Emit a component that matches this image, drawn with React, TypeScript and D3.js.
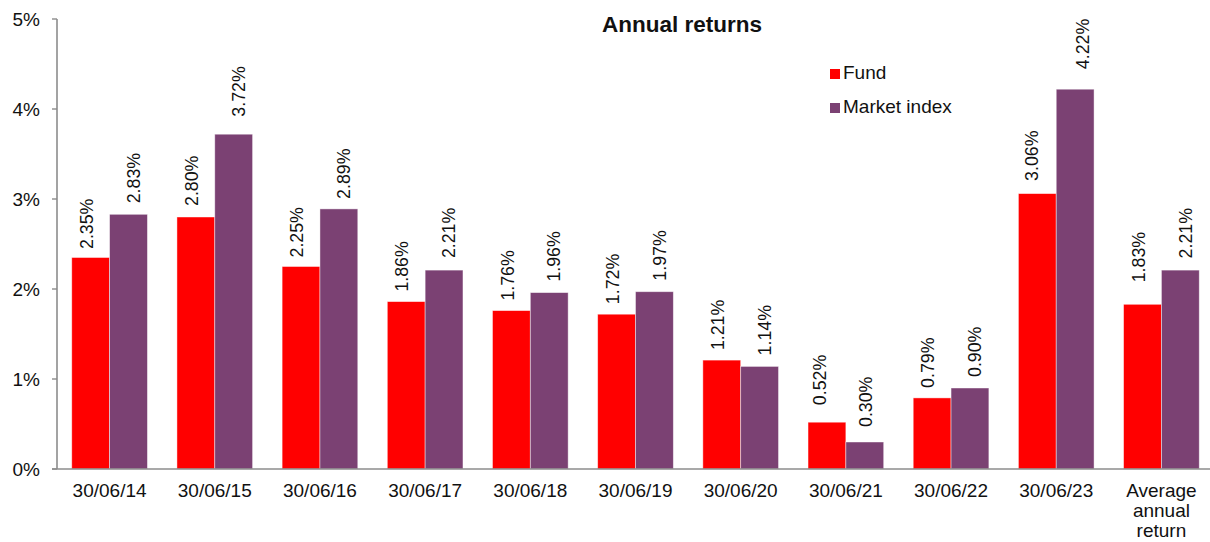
import React from "react";
import * as d3 from "d3";

const categories = ["30/06/14", "30/06/15", "30/06/16", "30/06/17", "30/06/18", "30/06/19", "30/06/20", "30/06/21", "30/06/22", "30/06/23", "Average annual return"];
const fundValues = [2.35, 2.8, 2.25, 1.86, 1.76, 1.72, 1.21, 0.52, 0.79, 3.06, 1.83];
const indexValues = [2.83, 3.72, 2.89, 2.21, 1.96, 1.97, 1.14, 0.3, 0.9, 4.22, 2.21];
const seriesNames = ["Fund", "Market index"];
const seriesColors = ["#FF0000", "#7B4173"];
const yTicks = [0, 1, 2, 3, 4, 5];
const title = "Annual returns";

// label placement tweaks (px gap above bar top, px horizontal shift) — styling only
const fundLabelGap = [8.5, 11, 9, 10, 10, 10, 10, 17, 10, 12.7, 22];
const indexLabelGap = [11, 17.5, 10, 12, 11, 11, 11, 15, 11, 20, 11.7];
const fundLabelShift = [-4, -4, -4, -4, -4, -4, -4, -7.5, -4, -6, -4];
const indexLabelShift = [5, 5, 5, 5, 5, 5, 5, 0.5, 5, 8, 5];

const W = 1210;
const H = 542;
const FONT = "'Liberation Sans', Arial, sans-serif";

export default function App() {
  const x = d3.scaleBand<string>().domain(categories).range([57, 1214]).padding(0);
  const sub = d3.scaleBand<string>().domain(seriesNames).range([0, x.bandwidth()]).paddingInner(0).paddingOuter(0.39);
  const y = d3.scaleLinear().domain([0, 5]).range([469, 19]);
  const series = [fundValues, indexValues];
  const gaps = [fundLabelGap, indexLabelGap];
  const shifts = [fundLabelShift, indexLabelShift];

  const wrapLabel = (c: string) => (c === "Average annual return" ? ["Average", "annual", "return"] : [c]);

  return (
    <svg width={W} height={H} style={{ position: "absolute", left: 0, top: 0, background: "#fff" }} fontFamily={FONT}>
      {series.map((vals, si) =>
        vals.map((v, i) => (
          <rect
            key={`b${si}-${i}`}
            x={(x(categories[i]) ?? 0) + (sub(seriesNames[si]) ?? 0)}
            y={y(v)}
            width={sub.bandwidth()}
            height={y(0) - y(v)}
            fill={seriesColors[si]}
            stroke="rgba(255,255,255,0.55)"
            strokeWidth={0.8}
          />
        ))
      )}
      {series.map((vals, si) =>
        vals.map((v, i) => {
          const cx = (x(categories[i]) ?? 0) + (sub(seriesNames[si]) ?? 0) + sub.bandwidth() / 2 + shifts[si][i];
          const ty = y(v) - gaps[si][i];
          return (
            <text
              key={`l${si}-${i}`}
              transform={`translate(${cx},${ty}) rotate(-90)`}
              dy="0.35em"
              fontSize={17.8}
              fill="#111"
              textAnchor="start"
            >
              {v.toFixed(2) + "%"}
            </text>
          );
        })
      )}
      <line x1={57} x2={57} y1={y(5)} y2={y(0)} stroke="#8c8c8c" strokeWidth={1.6} />
      {yTicks.map((t) => (
        <g key={`yt${t}`}>
          <line x1={52} x2={57} y1={y(t)} y2={y(t)} stroke="#8c8c8c" strokeWidth={1.4} />
          <text x={40} y={y(t)} dy="0.35em" textAnchor="end" fontSize={19} fill="#111">
            {t + "%"}
          </text>
        </g>
      ))}
      <line x1={52} x2={1214} y1={y(0)} y2={y(0)} stroke="#8c8c8c" strokeWidth={1.6} />
      {categories.map((c) => (
        <text key={`xc${c}`} textAnchor="middle" fontSize={19} fill="#111">
          {wrapLabel(c).map((ln, k) => (
            <tspan key={k} x={(x(c) ?? 0) + x.bandwidth() / 2} y={497 + k * 20}>
              {ln}
            </tspan>
          ))}
        </text>
      ))}
      <text x={682} y={32} textAnchor="middle" fontSize={22.5} fontWeight="bold" fill="#111">
        {title}
      </text>
      {seriesNames.map((s, i) => (
        <g key={`lg${s}`}>
          <rect x={830} y={69 + i * 34} width={10} height={10} fill={seriesColors[i]} />
          <text x={843} y={79 + i * 34} fontSize={19} fill="#111">
            {s}
          </text>
        </g>
      ))}
    </svg>
  );
}
